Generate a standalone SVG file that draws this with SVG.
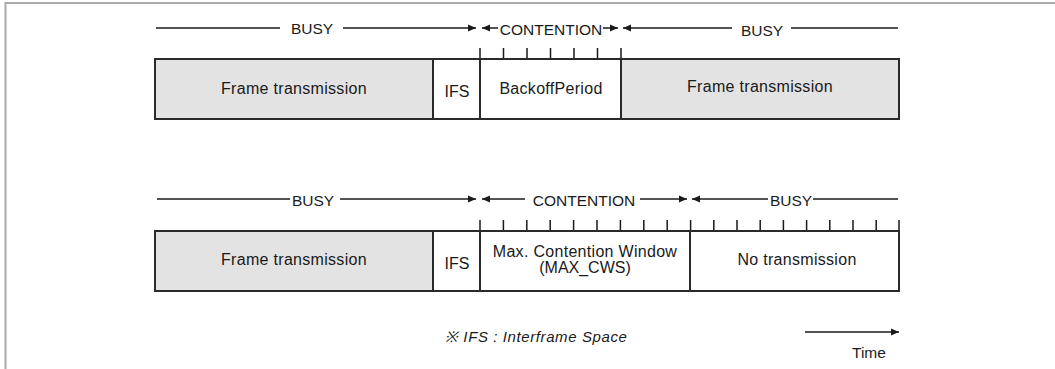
<svg xmlns="http://www.w3.org/2000/svg" width="1055" height="369" viewBox="0 0 1055 369">
  <defs>
    <marker id="head" markerUnits="userSpaceOnUse" markerWidth="9" markerHeight="8" refX="8" refY="4" orient="auto">
      <path d="M0,0.5 L8,4 L0,7.5 Z" fill="#1a1a1a"/>
    </marker>
    <style>
      text { font-family: "Liberation Sans", Arial, sans-serif; font-size: 15.5px; fill: #1a1a1a; }
      .mid { text-anchor: middle; }
      .lbl { font-size: 16px; letter-spacing: 0.3px; }
      .box { font-size: 16px; }
      .note { font-size: 15px; font-style: italic; letter-spacing: 0.6px; }
      .span { stroke: #1a1a1a; stroke-width: 1.5; fill: none; }
      .arr { stroke: #1a1a1a; stroke-width: 1.5; fill: none; marker-end: url(#head); }
      .tick { stroke: #1a1a1a; stroke-width: 1.5; }
      .busy { fill: #e3e3e3; stroke: #2a2a2a; stroke-width: 2; }
      .idle { fill: #ffffff; stroke: #2a2a2a; stroke-width: 2; }
      .frame { stroke: #aaa; stroke-width: 2; fill: none; }
    </style>
  </defs>

  <!-- outer frame edges -->
  <path class="frame" d="M5.5,369 V3 H1055"/>

  <!-- interval spans and arrows -->
  <g id="connectors">
    <!-- first timeline -->
    <line class="span" x1="156" y1="28" x2="280" y2="28"/>
    <line class="arr" x1="343" y1="28" x2="476" y2="28"/>
    <line class="arr" x1="498" y1="28" x2="482" y2="28"/>
    <line class="arr" x1="603" y1="28" x2="618" y2="28"/>
    <line class="arr" x1="732" y1="28" x2="623" y2="28"/>
    <line class="span" x1="791" y1="28" x2="898" y2="28"/>
    <!-- second timeline -->
    <line class="span" x1="157" y1="199" x2="290" y2="199"/>
    <line class="arr" x1="340" y1="199" x2="476" y2="199"/>
    <line class="arr" x1="525" y1="199" x2="482" y2="199"/>
    <line class="arr" x1="640" y1="199" x2="687" y2="199"/>
    <line class="arr" x1="768" y1="199" x2="692" y2="199"/>
    <line class="span" x1="813" y1="199" x2="898" y2="199"/>
    <!-- time axis -->
    <line class="arr" x1="805" y1="332" x2="899" y2="332"/>
  </g>

  <!-- span labels -->
  <g id="span-labels">
    <text class="mid" x="312" y="33.5">BUSY</text>
    <text class="mid" x="551" y="35">CONTENTION</text>
    <text class="mid" x="762" y="35.5">BUSY</text>
    <text class="mid" x="313" y="206">BUSY</text>
    <text class="mid" x="584" y="206">CONTENTION</text>
    <text class="mid" x="791" y="206">BUSY</text>
  </g>

  <!-- slot ticks -->
  <g id="slots-top">
    <path class="tick" d="M480,48 V59 M503.5,48 V59 M527,48 V59 M550.5,48 V59 M574,48 V59 M597.5,48 V59 M621,48 V59"/>
  </g>
  <g id="slots-bottom">
    <path class="tick" d="M480,220 V231 M503.4,220 V231 M526.8,220 V231 M550.2,220 V231 M573.6,220 V231 M597,220 V231 M620.4,220 V231 M643.8,220 V231 M667.2,220 V231 M690.6,220 V231 M713.8,220 V231 M737,220 V231 M760.2,220 V231 M783.4,220 V231 M806.6,220 V231 M829.8,220 V231 M853,220 V231 M876.2,220 V231 M899,220 V231"/>
  </g>

  <!-- first sequence -->
  <g id="frame-1">
    <rect class="busy" x="155" y="59" width="278" height="60"/>
    <text class="mid lbl" x="294" y="94">Frame transmission</text>
  </g>
  <g id="ifs-1">
    <rect class="idle" x="433" y="59" width="47" height="60"/>
    <text class="mid box" x="457" y="96.5">IFS</text>
  </g>
  <g id="backoff">
    <rect class="idle" x="480" y="59" width="141" height="60"/>
    <text class="mid lbl" x="551" y="94">BackoffPeriod</text>
  </g>
  <g id="frame-2">
    <rect class="busy" x="621" y="59" width="278" height="60"/>
    <text class="mid lbl" x="760" y="92">Frame transmission</text>
  </g>

  <!-- second sequence -->
  <g id="frame-3">
    <rect class="busy" x="155" y="231" width="278" height="60"/>
    <text class="mid lbl" x="294" y="265">Frame transmission</text>
  </g>
  <g id="ifs-2">
    <rect class="idle" x="433" y="231" width="47" height="60"/>
    <text class="mid box" x="457" y="268.5">IFS</text>
  </g>
  <g id="max-cw">
    <rect class="idle" x="480" y="231" width="210" height="60"/>
    <text class="mid lbl" x="585" y="256.5">Max. Contention Window</text>
    <text class="mid box" x="585" y="273">(MAX_CWS)</text>
  </g>
  <g id="no-tx">
    <rect class="idle" x="690" y="231" width="209" height="60"/>
    <text class="mid lbl" x="797" y="265">No transmission</text>
  </g>

  <!-- footnote and axis label -->
  <g id="legend">
    <text class="note" x="445" y="342">※ IFS : Interframe Space</text>
    <text x="852" y="358">Time</text>
  </g>
</svg>
